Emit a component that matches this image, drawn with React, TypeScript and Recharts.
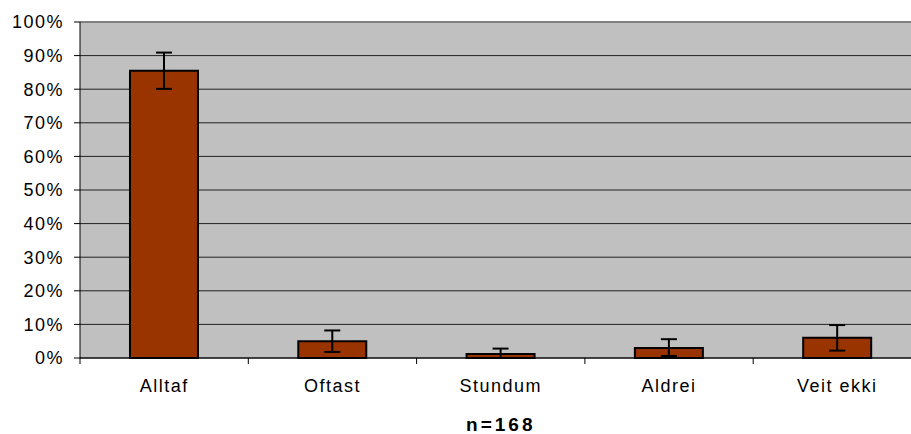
import { BarChart, Bar, XAxis, YAxis, CartesianGrid, ErrorBar, ReferenceLine, Label } from "recharts";

// svar og prosentdelar (lesne av figuren)
const categories = ["Alltaf", "Oftast", "Stundum", "Aldrei", "Veit ekki"];
const shares = [85.5, 5.0, 1.2, 3.0, 6.0];
// feilmarginar [ned, opp]
const errors: [number, number][] = [
  [5.4, 5.4],
  [3.2, 3.2],
  [1.2, 1.6],
  [2.4, 2.6],
  [3.8, 3.8],
];
const yTicks = [0, 10, 20, 30, 40, 50, 60, 70, 80, 90, 100];
const sampleLabel = "n=168";

const data = categories.map((name, i) => ({
  name,
  share: shares[i],
  err: errors[i],
}));

const font = "'Liberation Sans', Arial, sans-serif";
const tickStyle = { fill: "#000", fontSize: 18, fontFamily: font, letterSpacing: 1.5 };
const TICK_SIZE = 6;
const TICK_MARGIN = 15;

// etikett + strek ved kanten av kvar kategori
const CategoryTick = (props: any) => {
  const { x, y, payload, index, visibleTicksCount, width } = props;
  const half = payload?.offset ? payload.offset : width / visibleTicksCount / 2;
  const axisY = y - TICK_SIZE - TICK_MARGIN;
  return (
    <g>
      <line x1={x - half} x2={x - half} y1={axisY} y2={axisY + TICK_SIZE} stroke="#000" />
      {index === visibleTicksCount - 1 && (
        <line x1={x + half} x2={x + half} y1={axisY} y2={axisY + TICK_SIZE} stroke="#000" />
      )}
      <text x={x} y={y} dy="0.71em" textAnchor="middle" {...tickStyle}>
        {payload.value}
      </text>
    </g>
  );
};

export default function App() {
  return (
    <div
      style={{
        position: "absolute",
        left: 8,
        top: 8,
        width: 903,
        height: 426,
        overflow: "hidden",
      }}
    >
      <BarChart
        width={920}
        height={426}
        data={data}
        margin={{ top: 14, right: 6.5, left: 0, bottom: 0 }}
        barCategoryGap="29.7%"
      >
        <CartesianGrid vertical={false} fill="#C0C0C0" stroke="#222" fillOpacity={1} />
        <XAxis
          dataKey="name"
          height={76}
          axisLine={{ stroke: "#000" }}
          tickLine={false}
          tickSize={TICK_SIZE}
          tickMargin={TICK_MARGIN}
          interval={0}
          tick={<CategoryTick />}
        >
          <Label
            value={sampleLabel}
            position="insideBottom"
            offset={3}
            fill="#000"
            fontSize={19}
            fontWeight="bold"
            fontFamily={font}
            letterSpacing={3}
          />
        </XAxis>
        <YAxis
          width={72}
          domain={[0, 100]}
          ticks={yTicks}
          interval={0}
          tickFormatter={(v: number) => `${v}%`}
          tickSize={6}
          tickMargin={10}
          axisLine={{ stroke: "#000" }}
          tickLine={{ stroke: "#000" }}
          tick={tickStyle}
        />
        <ReferenceLine y={100} stroke="#808080" strokeWidth={2} />
        <Bar
          dataKey="share"
          fill="#993300"
          stroke="#000"
          strokeWidth={2}
          isAnimationActive={false}
        >
          <ErrorBar dataKey="err" width={8} stroke="#000" strokeWidth={2} />
        </Bar>
      </BarChart>
    </div>
  );
}
